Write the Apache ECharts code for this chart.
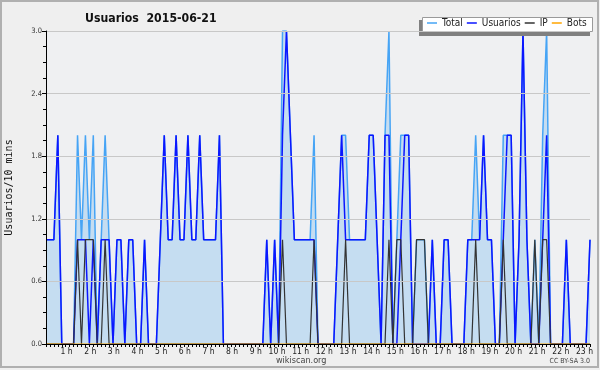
<!DOCTYPE html>
<html>
<head>
<meta charset="utf-8">
<script src="https://cdn.jsdelivr.net/npm/echarts@6/dist/echarts.min.js"></script>
<style>
  html, body { margin: 0; padding: 0; background: #efefef; }
  #chart { width: 600px; height: 370px; }
</style>
</head>
<body>
<div id="chart"></div>
<script>
// 10-minute slots from 0:00 to 23:00
const hourLabels = ['1 h', '2 h', '3 h', '4 h', '5 h', '6 h', '7 h', '8 h', '9 h', '10 h', '11 h', '12 h',
  '13 h', '14 h', '15 h', '16 h', '17 h', '18 h', '19 h', '20 h', '21 h', '22 h', '23 h'];

const total = [
  1, 1, 1, 2, 0, 0, 0, 0, 2, 1, 2, 1,
  2, 0, 1, 2, 1, 0, 1, 1, 0, 1, 1, 0,
  0, 1, 0, 0, 0, 1, 2, 1, 1, 2, 1, 1,
  2, 1, 1, 2, 1, 1, 1, 1, 2, 0, 0, 0,
  0, 0, 0, 0, 0, 0, 0, 0, 1, 0, 1, 0,
  3, 3, 2, 1, 1, 1, 1, 1, 2, 0, 0, 0,
  0, 0, 1, 2, 2, 1, 1, 1, 1, 1, 2, 2,
  1, 0, 2, 3, 0, 1, 2, 2, 2, 0, 1, 1,
  1, 0, 1, 0, 0, 1, 1, 0, 0, 0, 0, 1,
  1, 2, 1, 2, 1, 1, 0, 0, 2, 2, 2, 0,
  1, 3, 1, 0, 1, 0, 2, 3, 0, 0, 0, 0,
  1, 0, 0, 0, 0, 0, 1
];
const usuarios = [
  1, 1, 1, 2, 0, 0, 0, 0, 1, 1, 1, 0,
  1, 0, 1, 1, 1, 0, 1, 1, 0, 1, 1, 0,
  0, 1, 0, 0, 0, 1, 2, 1, 1, 2, 1, 1,
  2, 1, 1, 2, 1, 1, 1, 1, 2, 0, 0, 0,
  0, 0, 0, 0, 0, 0, 0, 0, 1, 0, 1, 0,
  2, 3, 2, 1, 1, 1, 1, 1, 1, 0, 0, 0,
  0, 0, 1, 2, 1, 1, 1, 1, 1, 1, 2, 2,
  1, 0, 2, 2, 0, 0, 1, 2, 2, 0, 0, 0,
  0, 0, 1, 0, 0, 1, 1, 0, 0, 0, 0, 1,
  1, 1, 1, 2, 1, 1, 0, 0, 1, 2, 2, 0,
  1, 3, 1, 0, 0, 0, 1, 2, 0, 0, 0, 0,
  1, 0, 0, 0, 0, 0, 1
];
const ip = [
  0, 0, 0, 0, 0, 0, 0, 0, 1, 0, 1, 1,
  1, 0, 0, 1, 0, 0, 0, 0, 0, 0, 0, 0,
  0, 0, 0, 0, 0, 0, 0, 0, 0, 0, 0, 0,
  0, 0, 0, 0, 0, 0, 0, 0, 0, 0, 0, 0,
  0, 0, 0, 0, 0, 0, 0, 0, 0, 0, 0, 0,
  1, 0, 0, 0, 0, 0, 0, 0, 1, 0, 0, 0,
  0, 0, 0, 0, 1, 0, 0, 0, 0, 0, 0, 0,
  0, 0, 0, 1, 0, 1, 1, 0, 0, 0, 1, 1,
  1, 0, 0, 0, 0, 0, 0, 0, 0, 0, 0, 0,
  0, 1, 0, 0, 0, 0, 0, 0, 1, 0, 0, 0,
  0, 0, 0, 0, 1, 0, 1, 1, 0, 0, 0, 0,
  0, 0, 0, 0, 0, 0, 0
];
const bots = [
  0, 0, 0, 0, 0, 0, 0, 0, 0, 0, 0, 0,
  0, 0, 0, 0, 0, 0, 0, 0, 0, 0, 0, 0,
  0, 0, 0, 0, 0, 0, 0, 0, 0, 0, 0, 0,
  0, 0, 0, 0, 0, 0, 0, 0, 0, 0, 0, 0,
  0, 0, 0, 0, 0, 0, 0, 0, 0, 0, 0, 0,
  0, 0, 0, 0, 0, 0, 0, 0, 0, 0, 0, 0,
  0, 0, 0, 0, 0, 0, 0, 0, 0, 0, 0, 0,
  0, 0, 0, 0, 0, 0, 0, 0, 0, 0, 0, 0,
  0, 0, 0, 0, 0, 0, 0, 0, 0, 0, 0, 0,
  0, 0, 0, 0, 0, 0, 0, 0, 0, 0, 0, 0,
  0, 0, 0, 0, 0, 0, 0, 0, 0, 0, 0, 0,
  0, 0, 0, 0, 0, 0, 0
];

// category labels for each slot (h:mm)
const slots = total.map((_, i) => Math.floor(i / 6) + ':' + (i % 6) + '0');

const FONT = '"DejaVu Sans Condensed", "DejaVu Sans", sans-serif';

const myChart = echarts.init(document.getElementById('chart'));
const option = {
  animation: false,
  backgroundColor: '#efefef',
  textStyle: { fontFamily: FONT },
  title: {
    text: 'Usuarios  2015-06-21',
    left: 80,
    top: 8,
    textStyle: { fontFamily: FONT, fontSize: 12.2, fontWeight: 'bold', color: '#111' },
  },
  legend: {
    left: 427,
    top: 18,
    padding: 0,
    itemGap: 4,
    itemWidth: 10,
    itemHeight: 1.5,
    icon: 'rect',
    z: 10,
    textStyle: { fontFamily: FONT, fontSize: 10, color: '#222' },
    data: ['Total', 'Usuarios', 'IP', 'Bots'],
  },
  grid: {
    left: 46,
    right: 10,
    top: 31,
    bottom: 26,
    outerBoundsMode: 'none',
    show: true,
    backgroundColor: '#eff0f2',
    borderWidth: 0,
  },
  xAxis: {
    type: 'category',
    boundaryGap: false,
    data: slots,
    z: 10,
    axisLine: { lineStyle: { color: '#000', width: 1 } },
    axisTick: { interval: 0, length: 3, lineStyle: { color: '#000' } },
    axisLabel: {
      interval: (idx) => idx > 0 && idx % 6 === 0,
      formatter: (v, idx) => hourLabels[idx / 6 - 1],
      align: 'right',
      padding: [0, -3, 0, 0],
      margin: 3,
      fontSize: 8.5,
      color: '#222',
      fontFamily: FONT,
    },
    splitLine: { show: false },
  },
  yAxis: {
    type: 'value',
    min: 0,
    max: 3,
    interval: 0.6,
    z: 10,
    name: 'Usuarios/10 mins',
    nameLocation: 'middle',
    nameGap: 32,
    nameTextStyle: { fontFamily: '"DejaVu Sans Mono", monospace', fontSize: 10, color: '#111' },
    axisLine: { show: true, lineStyle: { color: '#000' } },
    axisTick: { show: true, length: 4, lineStyle: { color: '#000' } },
    minorTick: { show: true, splitNumber: 4, length: 3, lineStyle: { color: '#000' } },
    axisLabel: {
      formatter: (v) => v.toFixed(1),
      fontSize: 7.5,
      color: '#333',
      margin: 4,
      fontFamily: FONT,
    },
    splitLine: { lineStyle: { color: '#c8c8c8', width: 1 } },
  },
  series: [
    {
      name: 'Total',
      type: 'line',
      data: total,
      symbol: 'none',
      lineStyle: { color: '#46a4f5', width: 1.5 },
      itemStyle: { color: '#46a4f5' },
      areaStyle: { color: '#c5ddf1', opacity: 1 },
    },
    {
      name: 'Usuarios',
      type: 'line',
      data: usuarios,
      symbol: 'none',
      lineStyle: { color: '#0b16ff', width: 1.5 },
      itemStyle: { color: '#0b16ff' },
    },
    {
      name: 'IP',
      type: 'line',
      data: ip,
      symbol: 'none',
      lineStyle: { color: '#333333', width: 1.2 },
      itemStyle: { color: '#333333' },
    },
    {
      name: 'Bots',
      type: 'line',
      data: bots,
      symbol: 'none',
      lineStyle: { color: '#ffa500', width: 1.2 },
      itemStyle: { color: '#ffa500' },
    },
  ],
  graphic: [
    {
      type: 'rect',
      shape: { x: 1, y: 1, width: 597, height: 366 },
      style: { fill: 'none', stroke: '#b0b0b0', lineWidth: 2 },
      silent: true,
    },
    // legend frame with its offset shadow
    {
      type: 'rect',
      z: 5,
      shape: { x: 419, y: 20, width: 171, height: 16 },
      style: { fill: '#808080' },
      silent: true,
    },
    {
      type: 'rect',
      z: 6,
      shape: { x: 422.5, y: 17.5, width: 170, height: 14 },
      style: { fill: '#ffffff', stroke: '#9a9a9a', lineWidth: 1 },
      silent: true,
    },
    {
      type: 'text',
      left: 276,
      top: 356,
      style: { text: 'wikiscan.org', fontSize: 9, fill: '#444', fontFamily: FONT },
    },
    {
      type: 'text',
      right: 10,
      top: 358,
      style: { text: 'CC BY-SA 3.0', fontSize: 7, fill: '#444', fontFamily: FONT },
    },
  ],
};

myChart.setOption(option);
</script>
</body>
</html>
